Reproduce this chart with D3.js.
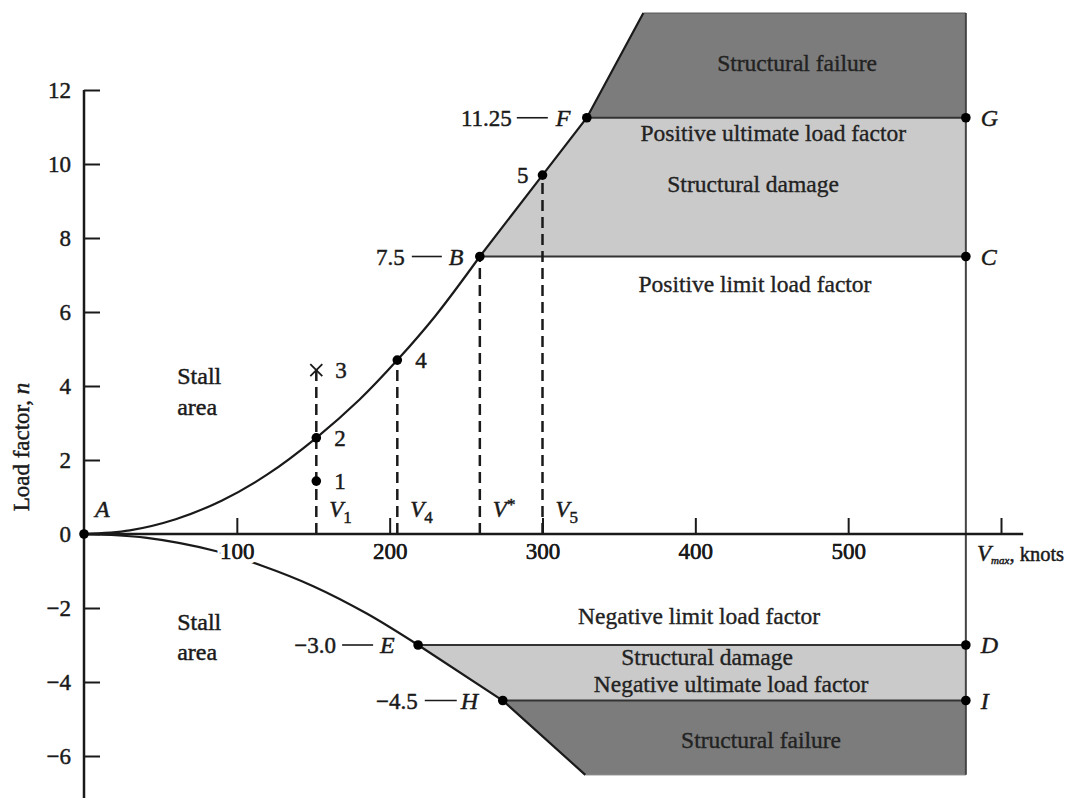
<!DOCTYPE html>
<html><head><meta charset="utf-8">
<script src="https://cdn.jsdelivr.net/npm/d3@7"></script>
<style>
html,body{margin:0;padding:0;background:#fff;}
svg{display:block;font-family:"Liberation Serif","DejaVu Serif",serif;}
text.heavy{stroke:#1a1a1a;stroke-width:0.45px;}
</style></head>
<body><svg id="c" width="1070" height="798"></svg>
<script>
// ---------- data (V in knots, n = load factor) ----------
const yTicks = [-6,-4,-2,0,2,4,6,8,10,12];
const yTickLabels = ["\u22126","\u22124","\u22122","0","2","4","6","8","10","12"];
const xTicks = [100,200,300,400,500,600];
const xTickLabels = ["100","200","300","400","500",""];

const posStallV = [0, 30, 60, 90, 120, 152, 180, 205, 230, 259];
const posStallN = [0, 0.10, 0.40, 0.90, 1.61, 2.6, 3.62, 4.7, 5.9, 7.5];
const posStructV = [259, 300, 329, 366];
const posStructN = [7.5, 9.7, 11.25, 14.08];
const negStallV = [0, 40, 86, 116, 150, 185, 218.6];
const negStallN = [0, -0.10, -0.46, -0.85, -1.41, -2.15, -3.0];
const negStructV = [218.6, 274, 328];
const negStructN = [-3.0, -4.5, -6.51];

const vMax = 577;
const nLimPos = 7.5, nUltPos = 11.25, nLimNeg = -3.0, nUltNeg = -4.5;
const nTop = 14.08, nBottom = -6.51;

// labelled points
const pointNames = ["A","2","4","B","5","F","G","C","E","H","D","I","1"];
const pointV = [0, 152, 205, 259, 300, 329, vMax, vMax, 218.6, 274, vMax, vMax, 152];
const pointN = [0, 2.6, 4.7, 7.5, 9.7, 11.25, 11.25, 7.5, -3.0, -4.5, -3.0, -4.5, 1.43];
const crossV = 152, crossN = 4.43;

// dashed speed lines
const dashV = [152, 205, 259, 300];
const dashTopN = [4.43, 4.7, 7.5, 9.7];
const dashLabels = [["V","1",""],["V","4",""],["V","","*"],["V","5",""]];

// region labels
const regionText = ["Structural failure","Positive ultimate load factor","Structural damage","Positive limit load factor",
                    "Negative limit load factor","Structural damage","Negative ultimate load factor","Structural failure"];
const regionV = [466.6, 451, 437.8, 439, 402.5, 407.7, 423.4, 443];
const regionN = [12.73, 10.84, 9.46, 6.76, -2.22, -3.32, -4.05, -5.57];

// ---------- scales ----------
const svg = d3.select("#c");
const W = 1070, H = 798;
const x = d3.scaleLinear().domain([0,600]).range([84,1001]);
const y = d3.scaleLinear().domain([-6,12]).range([756,90]);

const LIGHT = "#cacaca", DARK = "#7c7c7c", INK = "#1a1a1a";

const zip = (a,b) => a.map((v,i)=>[v,b[i]]);
const line = d3.line().x(d=>x(d[0])).y(d=>y(d[1]));
const smooth = d3.line().x(d=>x(d[0])).y(d=>y(d[1])).curve(d3.curveCatmullRom);

// ---------- regions ----------
const regions = [
  {pts:[[posStructV[0],nLimPos],[posStructV[2],nUltPos],[vMax,nUltPos],[vMax,nLimPos]], fill:LIGHT},
  {pts:[[posStructV[2],nUltPos],[posStructV[3],nTop],[vMax,nTop],[vMax,nUltPos]], fill:DARK},
  {pts:[[negStructV[0],nLimNeg],[vMax,nLimNeg],[vMax,nUltNeg],[negStructV[1],nUltNeg]], fill:LIGHT},
  {pts:[[negStructV[1],nUltNeg],[vMax,nUltNeg],[vMax,nBottom],[negStructV[2],nBottom]], fill:DARK}
];
svg.selectAll("path.region").data(regions).join("path")
  .attr("class","region")
  .attr("d", d=>line(d.pts)+"Z")
  .attr("fill", d=>d.fill).attr("stroke","none");

svg.append("path").attr("d", line([[posStructV[3],nTop],[vMax,nTop]])).attr("stroke","#555").attr("stroke-width",1).attr("fill","none");
svg.append("path").attr("d", line([[negStructV[2],nBottom],[vMax,nBottom]])).attr("stroke","#777").attr("stroke-width",1).attr("fill","none");

// horizontal load factor lines
[[posStructV[0],nLimPos],[posStructV[2],nUltPos],[negStructV[0],nLimNeg],[negStructV[1],nUltNeg]].forEach(p=>{
  svg.append("path").attr("d", line([p,[vMax,p[1]]])).attr("stroke","#333").attr("stroke-width",2).attr("fill","none");
});

// V max vertical line
svg.append("path").attr("d", line([[vMax,nTop],[vMax,nBottom]])).attr("stroke","#444").attr("stroke-width",2).attr("fill","none");

// ---------- axes ----------
const yAxis = d3.axisLeft(y).tickValues(yTicks).tickFormat((d,i)=>yTickLabels[i]).tickSize(-16).tickPadding(13);
const gy = svg.append("g").attr("transform",`translate(${x(0)},0)`).call(yAxis);
gy.select(".domain").remove();
gy.selectAll(".tick line").attr("stroke",INK).attr("stroke-width",2);
gy.selectAll(".tick text").attr("class","heavy").attr("font-family","Liberation Serif").attr("font-size",23).attr("fill",INK);
svg.append("line").attr("x1",x(0)).attr("x2",x(0)).attr("y1",y(12)).attr("y2",H).attr("stroke",INK).attr("stroke-width",2.5);

// ---------- curves ----------
svg.append("path").attr("d", smooth(zip(posStallV,posStallN))).attr("stroke",INK).attr("stroke-width",2.2).attr("fill","none");
svg.append("path").attr("d", line(zip(posStructV,posStructN))).attr("stroke",INK).attr("stroke-width",2.2).attr("fill","none");
svg.append("path").attr("d", smooth(zip(negStallV,negStallN))).attr("stroke",INK).attr("stroke-width",2.2).attr("fill","none");
svg.append("path").attr("d", line(zip(negStructV,negStructN))).attr("stroke",INK).attr("stroke-width",2.2).attr("fill","none");

const xAxis = d3.axisBottom(x).tickValues(xTicks).tickFormat((d,i)=>xTickLabels[i]).tickSize(-16).tickPadding(9);
const gx = svg.append("g").attr("transform",`translate(0,${y(0)})`).call(xAxis);
gx.select(".domain").remove();
gx.selectAll(".tick line").attr("stroke",INK).attr("stroke-width",2);
gx.selectAll(".tick text").attr("font-family","Liberation Serif").attr("font-size",23).attr("fill",INK)
  .attr("stroke","#fff").attr("stroke-width",9).attr("paint-order","stroke");
gx.selectAll(".tick").append("text").attr("class","heavy").attr("y",9).attr("dy","0.71em")
  .attr("font-family","Liberation Serif").attr("font-size",23).attr("fill",INK).attr("text-anchor","middle")
  .text((d,i)=>xTickLabels[i]);
svg.append("line").attr("x1",x(0)).attr("x2",x(614.5)).attr("y1",y(0)).attr("y2",y(0)).attr("stroke",INK).attr("stroke-width",2.5);

// ---------- dashed lines ----------
svg.selectAll("line.dash").data(dashV).join("line").attr("class","dash")
  .attr("x1",d=>x(d)).attr("x2",d=>x(d)).attr("y1",y(0)).attr("y2",(d,i)=>y(dashTopN[i]))
  .attr("stroke",INK).attr("stroke-width",2.5).attr("stroke-dasharray","11,6");

// V labels
dashLabels.forEach((lab,i)=>{
  const t = svg.append("text").attr("class","heavy").attr("x", x(dashV[i])+13).attr("y", y(0)-17)
    .attr("font-size",23).attr("fill",INK);
  t.append("tspan").attr("font-style","italic").text(lab[0]);
  if (lab[1]) t.append("tspan").attr("font-size",17).attr("dy",6).text(lab[1]);
  if (lab[2]) t.append("tspan").attr("font-size",17).attr("dy",-7).text(lab[2]);
});

// ---------- points ----------
svg.selectAll("circle.pt").data(pointNames).join("circle").attr("class","pt")
  .attr("cx",(d,i)=>x(pointV[i])).attr("cy",(d,i)=>y(pointN[i])).attr("r",4.8).attr("fill","#000");

// cross for point 3
const cx3 = x(crossV), cy3 = y(crossN);
svg.append("path").attr("d",`M${cx3-6},${cy3-6}L${cx3+6},${cy3+6}M${cx3-6},${cy3+6}L${cx3+6},${cy3-6}`)
  .attr("stroke",INK).attr("stroke-width",1.8);

// numeric point labels
const numLabels = [["3",crossV,crossN,19],["2",152,2.6,18],["1",152,1.43,18],["4",205,4.7,18]];
numLabels.forEach(d=>{
  svg.append("text").attr("class","heavy").attr("x",x(d[1])+d[3]).attr("y",y(d[2])).attr("dy","0.35em")
    .attr("font-size",23).attr("fill",INK).text(d[0]);
});
svg.append("text").attr("class","heavy").attr("x",x(300)-14).attr("y",y(9.7)).attr("dy","0.35em").attr("text-anchor","end")
  .attr("font-size",23).attr("fill",INK).text("5");

// letter labels at right of V max
[["G",nUltPos],["C",nLimPos],["D",nLimNeg],["I",nUltNeg]].forEach(d=>{
  svg.append("text").attr("class","heavy").attr("x",x(vMax)+15).attr("y",y(d[1])).attr("dy","0.35em")
    .attr("font-size",24).attr("font-style","italic").attr("fill",INK).text(d[0]);
});
svg.append("text").attr("class","heavy").attr("x",x(0)+11).attr("y",y(0)-17).attr("font-size",24).attr("font-style","italic").attr("fill",INK).text("A");

// value — letter labels
const keyLabels = [
  {num:"11.25", L:"F", v:329, n:nUltPos, numEnd:-75, l1:-70, l2:-39, lx:-31},
  {num:"7.5", L:"B", v:259, n:nLimPos, numEnd:-75, l1:-68, l2:-38, lx:-31},
  {num:"\u22123.0", L:"E", v:218.6, n:nLimNeg, numEnd:-82, l1:-76, l2:-45, lx:-38},
  {num:"\u22124.5", L:"H", v:274, n:nUltNeg, numEnd:-85, l1:-78, l2:-46, lx:-42}
];
keyLabels.forEach(k=>{
  const px = x(k.v), py = y(k.n);
  svg.append("text").attr("class","heavy").attr("x",px+k.numEnd).attr("y",py).attr("dy","0.35em").attr("text-anchor","end")
    .attr("font-size",23).attr("fill",INK).text(k.num);
  svg.append("line").attr("x1",px+k.l1).attr("x2",px+k.l2).attr("y1",py).attr("y2",py).attr("stroke",INK).attr("stroke-width",1.6);
  svg.append("text").attr("class","heavy").attr("x",px+k.lx).attr("y",py).attr("dy","0.35em")
    .attr("font-size",24).attr("font-style","italic").attr("fill",INK).text(k.L);
});

// region labels
svg.selectAll("text.reg").data(regionText).join("text").attr("class","reg")
  .attr("x",(d,i)=>x(regionV[i])).attr("y",(d,i)=>y(regionN[i])).attr("dy","0.35em")
  .attr("text-anchor","middle").attr("font-size",23.5).attr("fill","#222")
  .attr("stroke","#222").attr("stroke-width",0.35).text(d=>d);

// stall area labels
[[4.05,31],[-2.6,30]].forEach(d=>{
  const t = svg.append("text").attr("class","heavy").attr("x",x(61)).attr("y",y(d[0])).attr("font-size",24).attr("fill",INK);
  t.append("tspan").attr("x",x(61)).text("Stall");
  t.append("tspan").attr("x",x(61)).attr("dy",d[1]).text("area");
});

// x axis title
const xt = svg.append("text").attr("class","heavy").attr("x",977).attr("y",y(0)+27).attr("font-size",20.5).attr("fill",INK);
xt.append("tspan").attr("font-style","italic").attr("font-size",23).text("V");
xt.append("tspan").attr("font-style","italic").attr("font-size",11).attr("dy",3).text("max");
xt.append("tspan").attr("dy",-3).text(", knots");

// y axis title
const yt = svg.append("text").attr("class","heavy").attr("transform",`translate(29,${447}) rotate(-90)`).attr("text-anchor","middle")
  .attr("font-size",23).attr("fill",INK);
yt.append("tspan").text("Load factor, ");
yt.append("tspan").attr("font-style","italic").text("n");
</script></body></html>
